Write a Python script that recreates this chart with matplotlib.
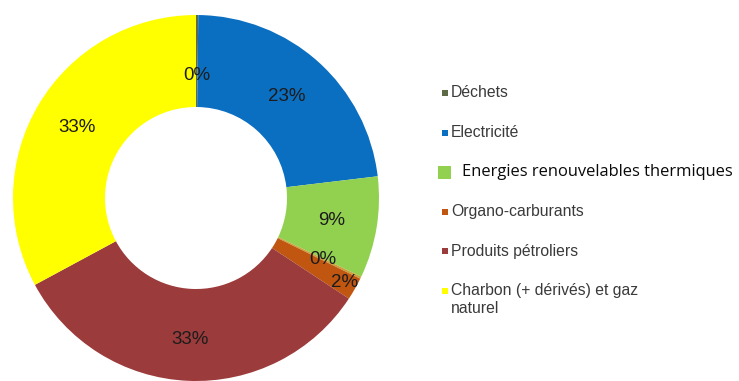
import numpy as np
import matplotlib
matplotlib.use("Agg")
import matplotlib.pyplot as plt
from matplotlib.patches import Rectangle

# Consumption shares (%) by energy, clockwise from 12 o'clock
categories = [
    "Déchets",
    "Electricité",
    "Energies renouvelables thermiques",
    "Autres",
    "Organo-carburants",
    "Produits pétroliers",
    "Charbon (+ dérivés) et gaz\nnaturel",
]
shares = [0.2, 23, 9, 0.2, 2, 33, 33]
in_legend = [True, True, True, False, True, True, True]

colors = ["#5e6a46", "#0b6fc1", "#92d050", "#c9a23c", "#c0560f", "#9c3b3b", "#ffff00"]
label_radius = [0.67, 0.745, 0.75, 0.77, 0.935, 0.775, 0.755]

W, H = 739, 381
fig = plt.figure(figsize=(W / 100, H / 100), dpi=100)
ax = fig.add_axes([0, 0, 1, 1])

cx, cy, R = 196, H - 198, 183
wedges, _ = ax.pie(
    shares, colors=colors, startangle=90, counterclock=False,
    center=(cx, cy), radius=R, frame=True,
    wedgeprops=dict(width=92, linewidth=0),
)
ax.set_xlim(0, W)
ax.set_ylim(0, H)
ax.set_aspect("equal")
ax.axis("off")

# value labels inside the ring
for w, v, rf in zip(wedges, shares, label_radius):
    mid = np.deg2rad((w.theta1 + w.theta2) / 2)
    ax.text(cx + rf * R * np.cos(mid), cy + rf * R * np.sin(mid),
            f"{v:.0f}%", ha="center", va="center", fontsize=13.5,
            family="Liberation Sans", color="#1c1c1c")

# legend
row0, step = 93, 39.6
row = 0
for name, col, show in zip(categories, colors, in_legend):
    if not show:
        continue
    y = H - (row0 + row * step)
    if name.startswith("Energies"):
        s = 13
        ax.add_patch(Rectangle((438, y - s / 2), s, s, color=col, lw=0))
        ax.text(462, y, name, ha="left", va="center", fontsize=11.9,
                family="Open Sans", color="#0a0a0a")
    else:
        s = 6
        ax.add_patch(Rectangle((442, y - s / 2), s, s, color=col, lw=0))
        ax.text(451, y + 7.8, name, ha="left", va="top", fontsize=11.3,
                family="Liberation Sans", color="#3a3a3a", linespacing=1.25)
    row += 1

fig.savefig("out.png", dpi=100)
